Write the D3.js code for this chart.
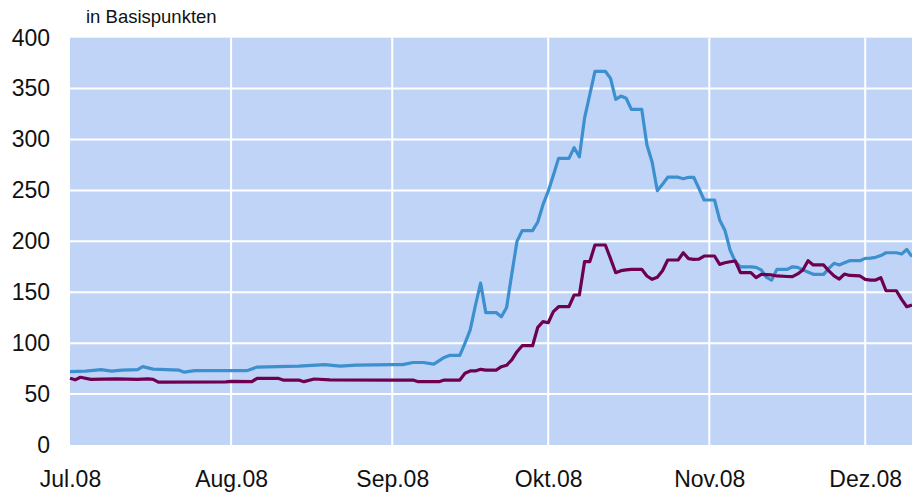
<!DOCTYPE html>
<html>
<head>
<meta charset="utf-8">
<script src="https://cdn.jsdelivr.net/npm/d3@7"></script>
<style>
  body { margin: 0; background: #fff; }
  text { font-family: "Liberation Sans", Arial, sans-serif; fill: #111; }
</style>
</head>
<body>
<div id="chart"></div>
<script>
// tick labels
var monthTicks = ["2008-07-01", "2008-08-01", "2008-09-01", "2008-10-01", "2008-11-01", "2008-12-01"];
var monthLabels = ["Jul.08", "Aug.08", "Sep.08", "Okt.08", "Nov.08", "Dez.08"];
var yTicks = [0, 50, 100, 150, 200, 250, 300, 350, 400];

// blue series
var blueDates = ["2008-07-01","2008-07-04","2008-07-07","2008-07-09","2008-07-11","2008-07-14","2008-07-15","2008-07-17",
  "2008-07-22","2008-07-23","2008-07-25","2008-07-31","2008-08-04","2008-08-06","2008-08-14","2008-08-19","2008-08-22",
  "2008-08-25","2008-09-01","2008-09-03","2008-09-05","2008-09-07","2008-09-09","2008-09-11","2008-09-12","2008-09-14",
  "2008-09-15","2008-09-16","2008-09-17","2008-09-18","2008-09-19","2008-09-21","2008-09-22","2008-09-23","2008-09-24",
  "2008-09-25","2008-09-26","2008-09-28","2008-09-29","2008-09-30","2008-10-01","2008-10-02","2008-10-03","2008-10-05",
  "2008-10-06","2008-10-07","2008-10-08","2008-10-09","2008-10-10","2008-10-12","2008-10-13","2008-10-14","2008-10-15",
  "2008-10-16","2008-10-17","2008-10-19","2008-10-20","2008-10-21","2008-10-22","2008-10-23","2008-10-24","2008-10-26",
  "2008-10-27","2008-10-28","2008-10-29","2008-10-30","2008-10-31","2008-11-02","2008-11-03","2008-11-04","2008-11-05",
  "2008-11-06","2008-11-07","2008-11-09","2008-11-10","2008-11-11","2008-11-12","2008-11-13","2008-11-14","2008-11-16",
  "2008-11-17","2008-11-18","2008-11-19","2008-11-21","2008-11-23","2008-11-24","2008-11-25","2008-11-26","2008-11-27",
  "2008-11-28","2008-11-30","2008-12-01","2008-12-02","2008-12-03","2008-12-04","2008-12-05","2008-12-07","2008-12-08",
  "2008-12-09","2008-12-10"];
var blueValues = [72, 72.5, 74, 72.5, 73.5, 74, 77, 74.5,
  73.5, 71.5, 73, 73, 73, 76.5, 77.5, 79, 77.5,
  78.5, 79, 79, 81, 81, 79.5, 86, 88, 88,
  100, 113, 137, 159, 130, 130, 126, 135, 168,
  200, 210.5, 210.5, 219, 236, 249, 265, 281.5, 281.5,
  292, 283, 321, 344, 367, 367, 360, 339.5, 342.7,
  340.5, 329.7, 329.7, 294.6, 278, 249.7, 256, 263, 263,
  261.5, 262.9, 262.9, 252, 240.6, 240.6, 221, 211, 191.5,
  180, 175, 175, 174.5, 172, 164.7, 162, 172.5, 172.5,
  175, 174.5, 172, 167.6, 167.6, 173.5, 178.4, 176.8, 179,
  181, 181, 183.3, 183.5, 184.3, 186, 188.8, 188.8, 187.6,
  192, 185];

// purple series
var purpleDates = ["2008-07-01","2008-07-02","2008-07-03","2008-07-05","2008-07-10","2008-07-14","2008-07-16","2008-07-17",
  "2008-07-18","2008-07-31","2008-08-01","2008-08-05","2008-08-06","2008-08-10","2008-08-11","2008-08-14","2008-08-15",
  "2008-08-17","2008-08-20","2008-09-01","2008-09-05","2008-09-06","2008-09-10","2008-09-11","2008-09-14","2008-09-15",
  "2008-09-16","2008-09-17","2008-09-18","2008-09-19","2008-09-21","2008-09-22","2008-09-23","2008-09-24","2008-09-25",
  "2008-09-26","2008-09-28","2008-09-29","2008-09-30","2008-10-01","2008-10-02","2008-10-03","2008-10-05","2008-10-06",
  "2008-10-07","2008-10-08","2008-10-09","2008-10-10","2008-10-12","2008-10-13","2008-10-14","2008-10-15","2008-10-16",
  "2008-10-17","2008-10-19","2008-10-20","2008-10-21","2008-10-22","2008-10-23","2008-10-24","2008-10-26","2008-10-27",
  "2008-10-28","2008-10-29","2008-10-30","2008-10-31","2008-11-02","2008-11-03","2008-11-04","2008-11-05","2008-11-06",
  "2008-11-07","2008-11-09","2008-11-10","2008-11-11","2008-11-12","2008-11-13","2008-11-14","2008-11-16","2008-11-17",
  "2008-11-18","2008-11-19","2008-11-20","2008-11-21","2008-11-23","2008-11-24","2008-11-25","2008-11-26","2008-11-27",
  "2008-11-28","2008-11-30","2008-12-01","2008-12-02","2008-12-03","2008-12-04","2008-12-05","2008-12-07","2008-12-08",
  "2008-12-09","2008-12-10"];
var purpleValues = [65.5, 64, 66.5, 64.5, 65, 64.5, 65, 64.5,
  61.8, 62, 62.5, 62.2, 65.5, 65.5, 63.8, 63.8, 62.2,
  64.8, 64, 63.8, 63.8, 62.2, 62.2, 63.8, 63.8, 70.4,
  72.7, 72.7, 74.3, 73.6, 73.6, 76.9, 78.3, 83.5, 91.6,
  97.5, 97.5, 115.6, 121.1, 120.1, 131, 135.8, 135.8, 147.3,
  147.3, 180, 180, 196.4, 196.4, 183, 169.2, 171.2, 172,
  172.5, 172.5, 166, 162.7, 164.7, 171.2, 181.7, 181.7, 188.8,
  183, 182.3, 182.5, 185.6, 185.6, 177.4, 179, 180, 180.7,
  169.2, 169.2, 164.3, 167.6, 167.3, 167, 166, 165.5, 165.3,
  168, 171.9, 181, 176.8, 176.8, 171, 166, 163, 167.9,
  166.5, 166, 162.7, 162, 162, 164.3, 151.5, 151.5, 143,
  135.8, 137.5];

var W = 912, H = 492;
var plotLeft = 70, plotRight = 912, plotTop = 37.7, plotBottom = 445;
var parse = d3.timeParse("%Y-%m-%d");

var x = d3.scaleTime()
  .domain([parse("2008-07-01"), parse("2008-12-10")])
  .range([plotLeft, plotRight]);
var y = d3.scaleLinear().domain([0, 400]).range([plotBottom, plotTop]);

var svg = d3.select("#chart").append("svg")
  .attr("width", W).attr("height", H);

// plot background
svg.append("rect")
  .attr("x", plotLeft).attr("y", plotTop)
  .attr("width", plotRight - plotLeft).attr("height", plotBottom - plotTop)
  .attr("fill", "#c0d4f8");

// horizontal grid
svg.append("g").selectAll("line")
  .data(yTicks.filter(function(d) { return d > 0 && d < 400; }))
  .enter().append("line")
  .attr("x1", plotLeft).attr("x2", plotRight)
  .attr("y1", function(d) { return y(d); })
  .attr("y2", function(d) { return y(d); })
  .attr("stroke", "#fff").attr("stroke-width", 2);

// vertical grid at month starts
svg.append("g").selectAll("line")
  .data(monthTicks.slice(1))
  .enter().append("line")
  .attr("x1", function(d) { return x(parse(d)); })
  .attr("x2", function(d) { return x(parse(d)); })
  .attr("y1", plotTop).attr("y2", plotBottom)
  .attr("stroke", "#fff").attr("stroke-width", 2);

// y axis labels
var yAxis = d3.axisLeft(y).tickValues(yTicks).tickSize(0).tickPadding(20);
var gy = svg.append("g").attr("transform", "translate(" + plotLeft + ",0)").call(yAxis);
gy.select(".domain").remove();
gy.selectAll("text")
  .attr("font-family", "Liberation Sans, Arial, sans-serif")
  .attr("font-size", 23).attr("fill", "#111");

// x axis labels
var xAxis = d3.axisBottom(x)
  .tickValues(monthTicks.map(parse))
  .tickFormat(function(d, i) { return monthLabels[i]; })
  .tickSize(0).tickPadding(26);
var gx = svg.append("g").attr("transform", "translate(0," + plotBottom + ")").call(xAxis);
gx.select(".domain").remove();
gx.selectAll("text")
  .attr("font-family", "Liberation Sans, Arial, sans-serif")
  .attr("font-size", 23).attr("fill", "#111");

// unit label
svg.append("text")
  .attr("x", 86).attr("y", 23)
  .attr("font-size", 18.5)
  .text("in Basispunkten");

var line = d3.line()
  .x(function(d) { return x(d[0]); })
  .y(function(d) { return y(d[1]); });

function pairs(dates, values) {
  return dates.map(function(d, i) { return [parse(d), values[i]]; });
}

svg.append("path")
  .datum(pairs(blueDates, blueValues))
  .attr("d", line)
  .attr("fill", "none")
  .attr("stroke", "#3d8fce")
  .attr("stroke-width", 3.2)
  .attr("stroke-linejoin", "round");

svg.append("path")
  .datum(pairs(purpleDates, purpleValues))
  .attr("d", line)
  .attr("fill", "none")
  .attr("stroke", "#6d0050")
  .attr("stroke-width", 3.2)
  .attr("stroke-linejoin", "round");
</script>
</body>
</html>
